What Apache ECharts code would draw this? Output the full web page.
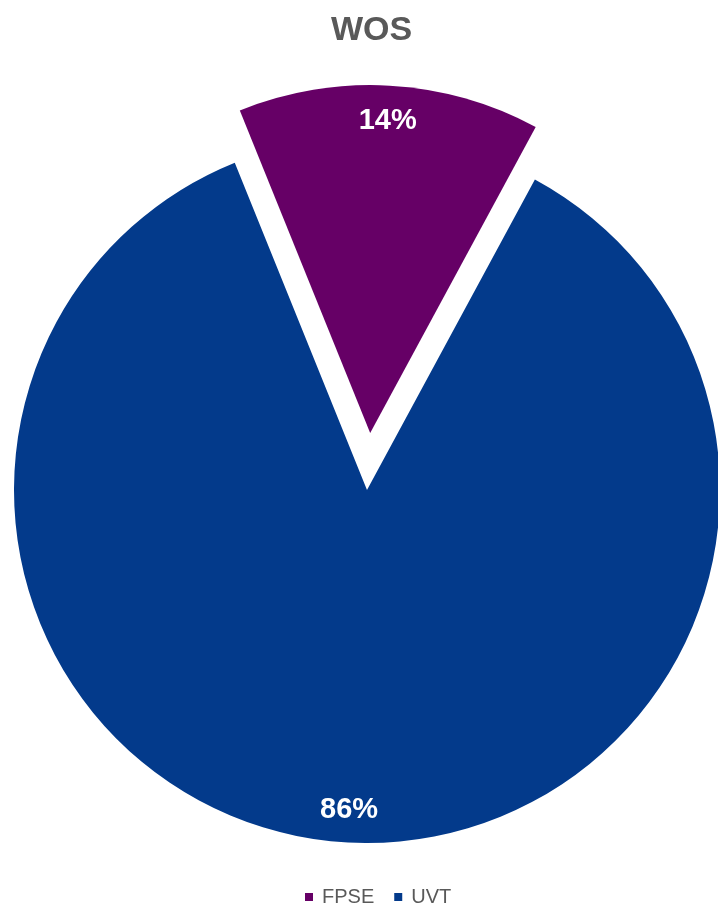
<!DOCTYPE html>
<html>
<head>
<meta charset="utf-8">
<script src="https://cdn.jsdelivr.net/npm/echarts@6/dist/echarts.min.js"></script>
<style>
html,body{margin:0;padding:0;background:#fff;}
#chart{width:718px;height:905px;}
</style>
</head>
<body>
<div id="chart"></div>
<script>
const categories = ['FPSE', 'UVT'];
const values = [14, 86];
const colors = ['#660066', '#033A8B'];
const titleText = 'WOS';

const chart = echarts.init(document.getElementById('chart'));
const FONT = '"Liberation Sans", Arial, sans-serif';
const center = [367, 490];
const R = 353;
const R_FPSE = 348;
const offset = 57;
const CLEAR = 'rgba(0,0,0,0)';

function sliceData(showIndex) {
  return categories.map((c, i) => ({
    name: c,
    value: values[i],
    selected: i === 0,
    itemStyle: { color: i === showIndex ? colors[i] : CLEAR }
  }));
}
function labelData(showIndex) {
  return categories.map((c, i) => ({
    name: c,
    value: values[i],
    selected: i === 0,
    label: { show: i === showIndex }
  }));
}

const basePie = {
  type: 'pie',
  center: center,
  startAngle: 112,
  clockwise: true,
  selectedMode: 'single',
  selectedOffset: offset,
  silent: true,
  emphasis: { disabled: true },
  labelLine: { show: false }
};
const labelStyle = {
  show: true,
  position: 'inside',
  formatter: '{d}%',
  fontFamily: FONT,
  fontSize: 29,
  fontWeight: 'bold',
  color: '#ffffff'
};

chart.setOption({
  animation: false,
  backgroundColor: '#ffffff',
  title: {
    text: titleText,
    left: 326,
    top: 9,
    textStyle: { fontFamily: FONT, fontSize: 34, fontWeight: 'bold', color: '#595959' }
  },
  legend: {
    data: categories.map((c, i) => ({ name: c, itemStyle: { color: colors[i] } })),
    top: 882,
    left: 300,
    icon: 'rect',
    itemWidth: 8,
    itemHeight: 8,
    itemGap: 20,
    selectedMode: false,
    textStyle: { fontFamily: FONT, fontSize: 20, color: '#595959', padding: [0, 0, 0, 4] }
  },
  series: [
    Object.assign({}, basePie, {
      radius: [0, R],
      label: { show: false },
      itemStyle: { borderWidth: 0 },
      data: sliceData(1)
    }),
    Object.assign({}, basePie, {
      radius: [0, R_FPSE],
      label: { show: false },
      itemStyle: { borderWidth: 0 },
      data: sliceData(0)
    }),
    Object.assign({}, basePie, {
      radius: [R * 0.8, R],
      percentPrecision: 0,
      itemStyle: { color: CLEAR, borderWidth: 0 },
      label: labelStyle,
      data: labelData(1)
    }),
    Object.assign({}, basePie, {
      radius: [272, R_FPSE],
      percentPrecision: 0,
      itemStyle: { color: CLEAR, borderWidth: 0 },
      label: labelStyle,
      data: labelData(0)
    })
  ]
});
</script>
</body>
</html>
